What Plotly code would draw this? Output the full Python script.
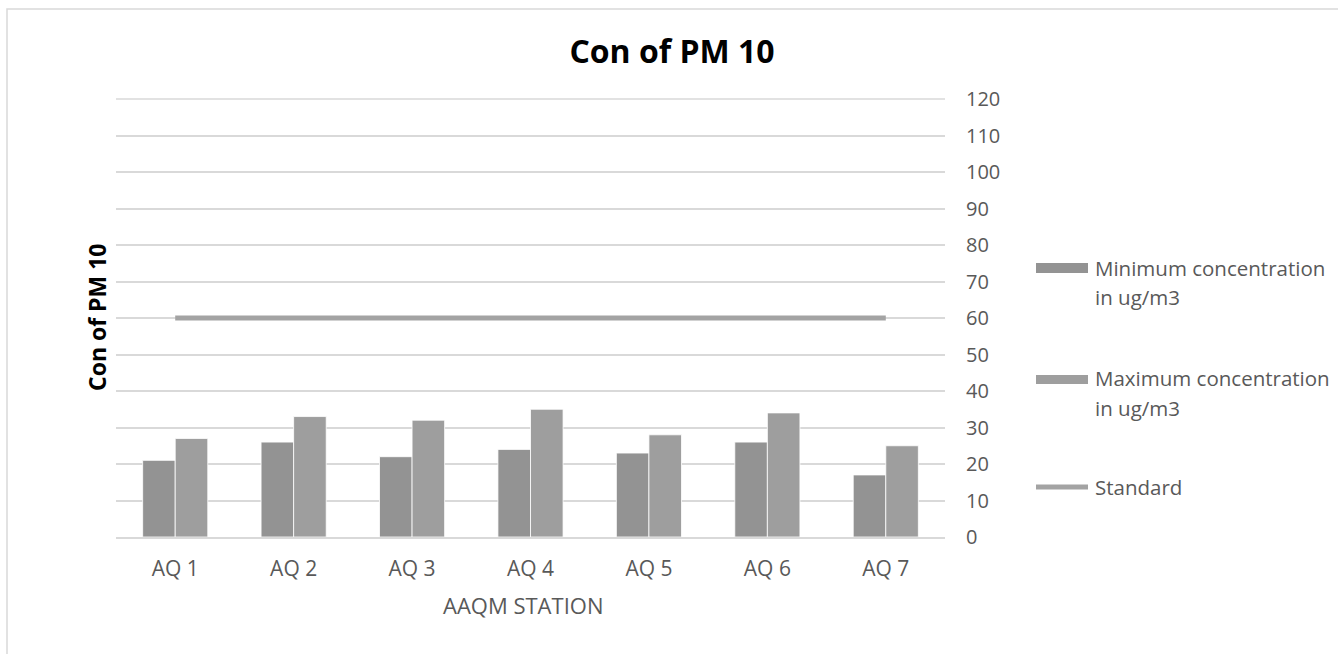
import plotly.graph_objects as go

# Station data (ug/m3)
stations = ["AQ 1", "AQ 2", "AQ 3", "AQ 4", "AQ 5", "AQ 6", "AQ 7"]
min_conc = [21, 26, 22, 24, 23, 26, 17]
max_conc = [27, 33, 32, 35, 28, 34, 25]
standard = [60, 60, 60, 60, 60, 60, 60]
y_ticks = [0, 10, 20, 30, 40, 50, 60, 70, 80, 90, 100, 110, 120]

W, H = 1338, 654
L, R, T, B = 116, 393, 99, 117
PW, PH = W - L - R, H - T - B

FONT = "Open Sans"
TXT = "#595959"
C_MIN = "#939393"
C_MAX = "#9e9e9e"
C_STD = "#a3a3a3"
GRID = "#d9d9d9"


def px_x(x):
    return (x - L) / PW


def px_y(y):
    return (H - B - y) / PH


fig = go.Figure()
fig.add_trace(go.Bar(
    x=stations, y=min_conc, name="Minimum concentration in ug/m3",
    marker=dict(color=C_MIN, line=dict(color="#ffffff", width=0.8)),
    showlegend=False,
))
fig.add_trace(go.Bar(
    x=stations, y=max_conc, name="Maximum concentration in ug/m3",
    marker=dict(color=C_MAX, line=dict(color="#ffffff", width=0.8)),
    showlegend=False,
))
fig.add_trace(go.Scatter(
    x=stations, y=standard, name="Standard", mode="lines",
    line=dict(color=C_STD, width=5), showlegend=False,
))

shapes = [
    # outer chart frame
    dict(type="rect", xref="paper", yref="paper",
         x0=px_x(7), x1=px_x(1400), y0=px_y(9), y1=px_y(700),
         line=dict(color=GRID, width=1.5), layer="below"),
    # top gridline along the upper edge of the plot area
    dict(type="line", xref="paper", yref="paper",
         x0=0, x1=1, y0=1, y1=1,
         line=dict(color=GRID, width=1.5), layer="below"),
    # legend swatches
    dict(type="rect", xref="paper", yref="paper",
         x0=px_x(1036), x1=px_x(1088), y0=px_y(273), y1=px_y(263),
         fillcolor=C_MIN, line=dict(width=0)),
    dict(type="rect", xref="paper", yref="paper",
         x0=px_x(1036), x1=px_x(1088), y0=px_y(384), y1=px_y(375),
         fillcolor=C_MAX, line=dict(width=0)),
    dict(type="line", xref="paper", yref="paper",
         x0=px_x(1036), x1=px_x(1088), y0=px_y(487), y1=px_y(487),
         line=dict(color=C_STD, width=5)),
]

legend_lines = [
    ("Minimum concentration", 268),
    ("in ug/m3", 297),
    ("Maximum concentration", 378),
    ("in ug/m3", 408),
    ("Standard", 487),
]
annotations = [
    dict(text=t, xref="paper", yref="paper", x=px_x(1093), y=px_y(yy),
         xanchor="left", yanchor="middle", showarrow=False,
         font=dict(family=FONT, size=20.5, color=TXT))
    for t, yy in legend_lines
]
annotations.append(dict(
    text="<b>Con of PM 10</b>", xref="paper", yref="paper",
    x=px_x(97), y=px_y(317), textangle=-90, showarrow=False,
    xanchor="center", yanchor="middle",
    font=dict(family=FONT, size=23, color="#000000"),
))
annotations.append(dict(
    text="AAQM STATION", xref="paper", yref="paper",
    x=px_x(523), y=px_y(605), showarrow=False,
    xanchor="center", yanchor="middle",
    font=dict(family=FONT, size=22, color=TXT),
))

fig.update_layout(
    width=W, height=H,
    margin=dict(l=L, r=R, t=T, b=B),
    paper_bgcolor="#ffffff", plot_bgcolor="#ffffff",
    barmode="group", bargap=0.45, bargroupgap=0,
    title=dict(text="<b>Con of PM 10</b>", x=672 / W, xref="container",
               y=1 - 52 / H, yref="container", xanchor="center", yanchor="middle",
               font=dict(family=FONT, size=32, color="#000000")),
    xaxis=dict(
        type="category", range=[-0.5, 6.5], showgrid=False,
        showline=True, linecolor=GRID, linewidth=1.5,
        ticks="", ticklabelstandoff=12,
        tickfont=dict(family=FONT, size=21, color=TXT),
    ),
    yaxis=dict(
        side="right", range=[0, 120], tickvals=y_ticks,
        showgrid=True, gridcolor=GRID, gridwidth=1.5,
        zeroline=False, showline=False, ticks="",
        ticklabelstandoff=20,
        tickfont=dict(family=FONT, size=20, color=TXT),
    ),
    shapes=shapes,
    annotations=annotations,
    font=dict(family=FONT),
)

fig.write_html("out.html")
